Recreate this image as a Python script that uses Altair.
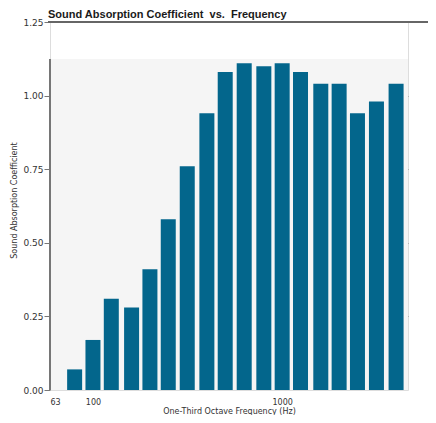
import altair as alt
import pandas as pd

freqs = [80, 100, 125, 160, 200, 250, 315, 400, 500, 630, 800, 1000,
         1250, 1600, 2000, 2500, 3150, 4000]
coef = [0.07, 0.17, 0.31, 0.28, 0.41, 0.58, 0.76, 0.94, 1.08, 1.11, 1.10,
        1.11, 1.08, 1.04, 1.04, 0.94, 0.98, 1.04]
x_tick_labels = [63, 100, 1000]
y_ticks = [0.0, 0.25, 0.5, 0.75, 1.0, 1.25]

df = pd.DataFrame({"freq": freqs, "coef": coef})

W, H = 358, 368
BG_TOP = 1.1235
FONT = "DejaVu Sans"
BAR = "#03668c"
GRID = "#8c8c8c"

xscale = alt.Scale(type="log", domain=[63, 4351], nice=False)
yscale = alt.Scale(domain=[0, 1.25], nice=False, zero=True)

base = alt.Chart(df)

bg = base.mark_rect(color="#f5f5f5").encode(
    x=alt.value(0), x2=alt.value(W),
    y=alt.datum(0, scale=yscale), y2=alt.datum(BG_TOP),
)

bars = base.mark_bar(color=BAR, size=15).encode(
    x=alt.X("freq:Q", scale=xscale,
            axis=alt.Axis(values=x_tick_labels, format="d", domain=False,
                          ticks=False, grid=False, labelFlush=False,
                          labelOverlap=False, labelFont=FONT, labelFontSize=8,
                          labelColor="#333333", labelPadding=8,
                          title="One-Third Octave Frequency (Hz)",
                          titleFont=FONT, titleFontSize=8, titleFontWeight="normal",
                          titleColor="#333333", titlePadding=1)),
    y=alt.Y("coef:Q", scale=yscale,
            axis=alt.Axis(values=y_ticks, format=".2f", domain=False,
                          grid=True, gridColor=GRID, gridWidth=1,
                          gridOpacity={"condition": {"test": "datum.value == 0 || datum.value == 1.25", "value": 0}, "value": 1},
                          tickColor="#777777", tickSize=6, labelPadding=1,
                          labelFont=FONT, labelFontSize=9, labelColor="#333333",
                          title="Sound Absorption Coefficient",
                          titleFont=FONT, titleFontSize=8, titleFontWeight="normal",
                          titleColor="#333333", titleX=-36, titleY=178,
                          titleBaseline="middle", titleAlign="center")),
)

yline = base.mark_rule(color="#777777", strokeWidth=1).encode(
    x=alt.value(0), y=alt.datum(0, scale=yscale), y2=alt.datum(BG_TOP),
)

topline = base.mark_rule(color="#666666", strokeWidth=1).encode(
    x=alt.value(-2), x2=alt.value(W + 30), y=alt.datum(1.25, scale=yscale),
)

chart = alt.layer(bg, bars, yline, topline).properties(
    width=W, height=H,
    title=alt.TitleParams(
        "Sound Absorption Coefficient\u00a0 vs.\u00a0 Frequency",
        anchor="start", frame="group", font="Liberation Sans", fontSize=11,
        fontWeight="bold", color="#1a1a1a", offset=-2, dx=-2),
    autosize=alt.AutoSizeParams(type="none"),
    padding={"left": 42, "top": 14, "right": 20, "bottom": 25},
).configure_view(stroke=None, fill=None).configure(background="white")

chart.save("out.html", embed_options={"renderer": "svg", "actions": False})
